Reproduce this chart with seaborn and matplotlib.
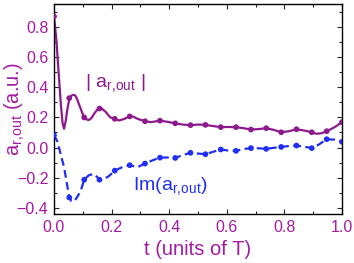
"""
|a_r,out| and Im(a_r,out) versus time, in units of the period T.
Dots are the sampled values, lines follow the drawn curves.
"""
import matplotlib
matplotlib.use("Agg")
import matplotlib.pyplot as plt
from matplotlib.ticker import MultipleLocator
import seaborn as sns
import pandas as pd

# sampled points (dots)
t_dots = [0.0, 0.053, 0.105, 0.158, 0.211, 0.263, 0.316, 0.368, 0.421, 0.474,
          0.526, 0.579, 0.632, 0.684, 0.737, 0.789, 0.842, 0.895, 0.947, 1.0]
abs_dots = [0.868, 0.327, 0.199, 0.258, 0.19, 0.206, 0.174, 0.178, 0.16, 0.148,
            0.150, 0.135, 0.135, 0.119, 0.128, 0.101, 0.121, 0.101, 0.108, 0.168]
im_dots = [0.082, -0.331, -0.213, -0.213, -0.153, -0.117, -0.106, -0.067, -0.069, -0.035,
           -0.044, -0.013, -0.022, -0.004, -0.009, 0.004, 0.013, -0.004, 0.055, 0.038]

# curve through the points
t_abs = [0.0, 0.008, 0.016, 0.024, 0.03, 0.035, 0.041, 0.047, 0.053, 0.058, 0.063,
         0.068, 0.072, 0.077, 0.082, 0.087, 0.093, 0.099, 0.105, 0.115, 0.122, 0.13,
         0.14, 0.15, 0.158, 0.165, 0.18, 0.195, 0.211, 0.226, 0.245, 0.263, 0.275,
         0.29, 0.316, 0.336, 0.35, 0.368, 0.395, 0.421, 0.447, 0.474, 0.5, 0.526,
         0.553, 0.579, 0.605, 0.632, 0.658, 0.684, 0.71, 0.737, 0.763, 0.789, 0.816,
         0.842, 0.868, 0.895, 0.912, 0.93, 0.947, 0.975, 1.0]
v_abs = [0.868, 0.72, 0.5, 0.28, 0.16, 0.124, 0.18, 0.26, 0.318, 0.338, 0.346,
         0.349, 0.347, 0.335, 0.312, 0.285, 0.256, 0.225, 0.199, 0.184, 0.183, 0.195,
         0.225, 0.25, 0.258, 0.26, 0.235, 0.2, 0.19, 0.179, 0.19, 0.206, 0.205,
         0.19, 0.174, 0.168, 0.172, 0.178, 0.17, 0.16, 0.152, 0.148, 0.152, 0.150,
         0.142, 0.135, 0.136, 0.135, 0.128, 0.119, 0.122, 0.128, 0.117, 0.101, 0.108,
         0.121, 0.113, 0.101, 0.091, 0.095, 0.108, 0.135, 0.168]

t_im = [0.0, 0.012, 0.024, 0.035, 0.045, 0.053, 0.061, 0.069, 0.08, 0.093, 0.105,
        0.12, 0.137, 0.15, 0.158, 0.168, 0.19, 0.211, 0.237, 0.263, 0.29, 0.316,
        0.342, 0.368, 0.395, 0.421, 0.447, 0.474, 0.5, 0.526, 0.553, 0.579, 0.605,
        0.632, 0.658, 0.684, 0.71, 0.737, 0.763, 0.789, 0.816, 0.842, 0.868, 0.895,
        0.92, 0.947, 0.975, 1.0]
v_im = [0.082, 0.04, -0.05, -0.13, -0.24, -0.331, -0.355, -0.358, -0.33, -0.285, -0.213,
        -0.185, -0.174, -0.195, -0.213, -0.215, -0.19, -0.153, -0.13, -0.117, -0.13, -0.106,
        -0.085, -0.067, -0.066, -0.069, -0.05, -0.035, -0.04, -0.044, -0.028, -0.013, -0.02,
        -0.022, -0.01, -0.004, -0.005, -0.009, -0.002, 0.004, 0.01, 0.013, 0.006, -0.004,
        0.02, 0.055, 0.052, 0.038]

PURPLE = "#8c1a8c"
TXT = "#a61aa3"
BLUE = "#1f2ef2"
SYM = r"$\mathregular{a_{r,\!out}}$"

sns.set_style("ticks")
plt.rcParams["font.family"] = ["Liberation Sans", "DejaVu Sans"]
plt.rcParams["mathtext.fontset"] = "custom"
plt.rcParams["mathtext.rm"] = "Liberation Sans"
plt.rcParams["mathtext.it"] = "Liberation Sans"

df_dots = pd.DataFrame({"t": t_dots, "abs": abs_dots, "im": im_dots})
df_abs = pd.DataFrame({"t": t_abs, "v": v_abs})
df_im = pd.DataFrame({"t": t_im, "v": v_im})

fig = plt.figure(figsize=(3.54, 2.63), dpi=100)
ax = fig.add_axes([0.1525, 0.1863, 0.8135, 0.7985])

sns.lineplot(data=df_abs, x="t", y="v", ax=ax, color=PURPLE, lw=1.6)
sns.lineplot(data=df_im, x="t", y="v", ax=ax, color=BLUE, lw=1.6, dashes=False)
ax.lines[-1].set_dashes([3.5, 2])
sns.scatterplot(data=df_dots, x="t", y="abs", ax=ax, color=PURPLE, s=17,
                edgecolor="none", zorder=3)
sns.scatterplot(data=df_dots, x="t", y="im", ax=ax, color=BLUE, s=17,
                edgecolor="none", zorder=3)

ax.set_xlim(0, 1.0)
ax.set_ylim(-0.44, 0.95)
ax.xaxis.set_major_locator(MultipleLocator(0.2))
ax.xaxis.set_minor_locator(MultipleLocator(0.1))
ax.yaxis.set_major_locator(MultipleLocator(0.2))
ax.yaxis.set_minor_locator(MultipleLocator(0.1))
ax.xaxis.set_major_formatter(plt.FormatStrFormatter("%.1f"))
ax.yaxis.set_major_formatter(plt.FuncFormatter(lambda v, p: f"{v:.1f}".replace("-", "\u2212")))
ax.tick_params(which="both", direction="in", top=True, right=True, width=0.8,
               labelsize=11.5, labelcolor=TXT, pad=4)
ax.tick_params(which="major", length=3.5)
ax.tick_params(which="minor", length=2)
for s in ax.spines.values():
    s.set_linewidth(1.0)
    s.set_color("black")

ax.set_xlabel("t (units of T)", fontsize=14.5, color=TXT)
ax.set_ylabel(SYM + " (a.u.)", fontsize=14.5, color=TXT)
ax.xaxis.set_label_coords(0.5, -0.122)
ax.yaxis.set_label_coords(-0.094, 0.5)

ax.text(0.108, 0.43, "| " + SYM + " |", fontsize=14, color=PURPLE,
        va="center", ha="left")
ax.text(0.274, -0.252, "Im(" + SYM + ")", fontsize=14, color=BLUE,
        va="center", ha="left")

fig.savefig("out.png", dpi=100)
